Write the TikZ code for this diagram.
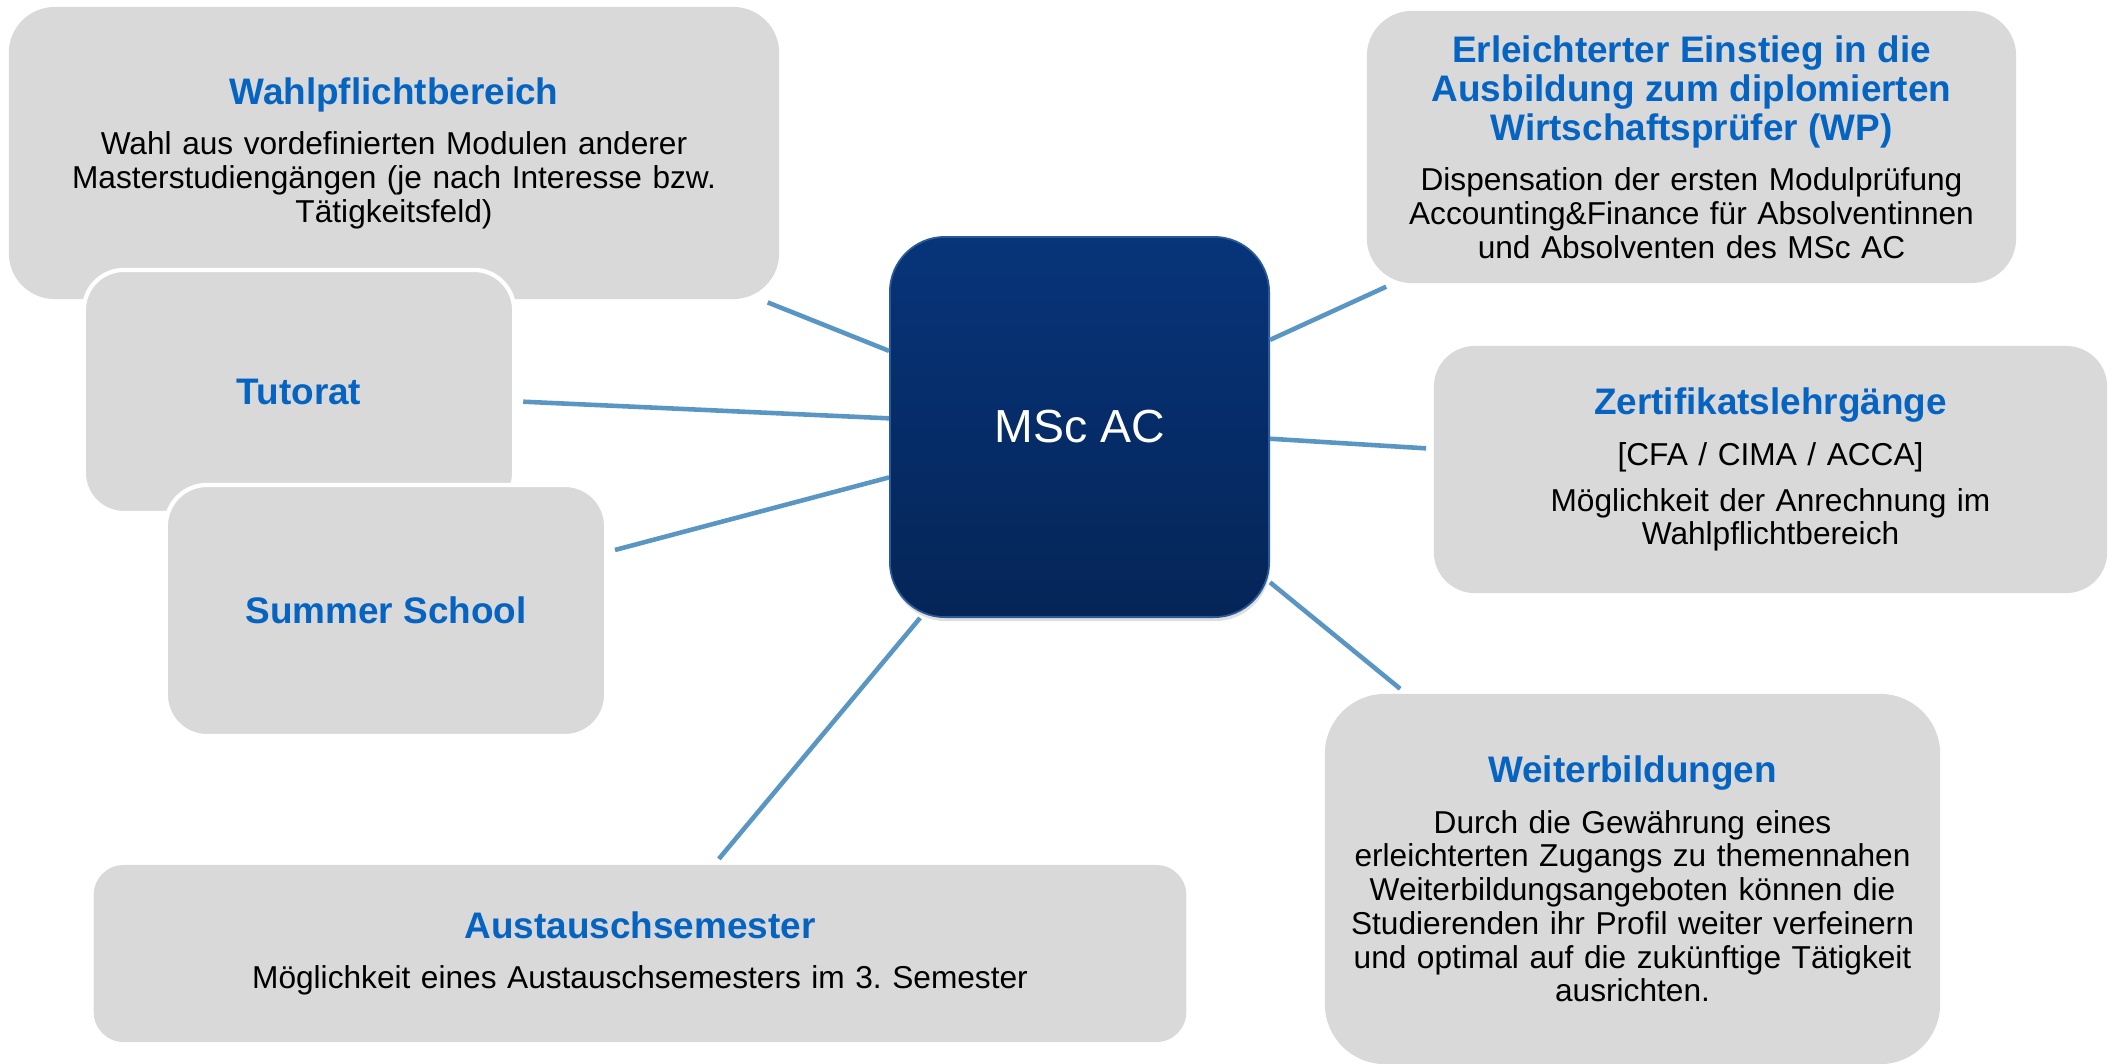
\documentclass[tikz,border=0pt]{standalone}
\usepackage{fontspec}
\setmainfont{Liberation Sans}
\usepackage{tikz}
\usetikzlibrary{shadows}

\definecolor{boxgray}{HTML}{D9D9D9}
\definecolor{headblue}{HTML}{0563C1}
\definecolor{linkblue}{HTML}{5A96C4}
\definecolor{msctop}{HTML}{07347A}
\definecolor{mscbot}{HTML}{052557}
\definecolor{mscedge}{HTML}{2A5A9A}

\frenchspacing
\newcommand{\bodyfont}{\fontsize{9.0}{9.6}\selectfont}
\newcommand{\headfont}{\fontsize{10.5}{11.1}\selectfont\bfseries\color{headblue}}
\newcommand{\hd}[1]{{\headfont #1\par}\vspace{4.8pt}}

\begin{document}
\begin{tikzpicture}[x=0.01cm,y=-0.01cm,
	bubble/.style={fill=boxgray, inner sep=0pt, align=center, font=\bodyfont},
	link/.style={draw=linkblue, line width=1.3pt, shorten >=0.07cm}]

	\useasboundingbox (0,0) rectangle (2112,1063);
	\clip (0,0) rectangle (2112,1063);

	% Left boxes (drawn back to front)
	\node[bubble, rounded corners=0.46cm, minimum width=7.7cm, minimum height=2.92cm, text width=7.2cm] (wahl) at (394,153)
		{\hd{Wahlpflichtbereich}Wahl aus vordefinierten Modulen anderer\\ Masterstudiengängen (je nach Interesse bzw.\\ Tätigkeitsfeld)};
	\node[bubble, rounded corners=0.4cm, minimum width=4.3cm, minimum height=2.43cm, draw=white, line width=1.2pt] (tutorat) at (299,391.5)
		{\headfont Tutorat};
	\node[bubble, rounded corners=0.41cm, minimum width=4.4cm, minimum height=2.51cm, draw=white, line width=1.2pt] (summer) at (386,610.5)
		{\headfont Summer School};

	% Bottom box
	\node[bubble, rounded corners=0.3cm, minimum width=10.92cm, minimum height=1.77cm, text width=10cm] (austausch) at (640,953.5)
		{\hd{Austauschsemester}Möglichkeit eines Austauschsemesters im 3. Semester};

	% Right boxes
	\node[bubble, rounded corners=0.45cm, minimum width=6.49cm, minimum height=2.72cm, text width=6.2cm] (wp) at (1691.5,147)
		{\hd{Erleichterter Einstieg in die\\ Ausbildung zum diplomierten\\ Wirtschaftsprüfer (WP)}Dispensation der ersten Modulprüfung\\ Accounting\&Finance für Absolventinnen\\ und Absolventen des MSc AC};
	\node[bubble, rounded corners=0.41cm, minimum width=6.73cm, minimum height=2.47cm, text width=6.4cm] (zert) at (1770.5,469.5)
		{\hd{Zertifikatslehrgänge}[CFA / CIMA / ACCA]\par\vspace{3.5pt}Möglichkeit der Anrechnung im\\ Wahlpflichtbereich};
	\node[bubble, rounded corners=0.6cm, minimum width=6.15cm, minimum height=3.7cm, text width=5.9cm] (weiter) at (1632.5,879)
		{\hd{Weiterbildungen}Durch die Gewährung eines\\ erleichterten Zugangs zu themennahen\\ Weiterbildungsangeboten können die\\ Studierenden ihr Profil weiter verfeinern\\ und optimal auf die zukünftige Tätigkeit\\ ausrichten.};

	% Central box
	\node[rounded corners=0.55cm, minimum width=3.79cm, minimum height=3.8cm, top color=msctop, bottom color=mscbot, draw=mscedge, line width=0.5pt,
		drop shadow={opacity=0.25, shadow xshift=0.01cm, shadow yshift=-0.04cm},
		text=white, font=\fontsize{13.2}{15}\selectfont] (msc) at (1079.5,427) {MSc AC};

	% Connectors
	\draw[link] (msc) -- (wahl);
	\draw[link] (msc) -- (tutorat);
	\draw[link] (msc) -- (summer);
	\draw[link] (msc) -- (austausch);
	\draw[link] (msc) -- (wp);
	\draw[link] (msc) -- (zert);
	\draw[link] (msc) -- (weiter);

\end{tikzpicture}
\end{document}
